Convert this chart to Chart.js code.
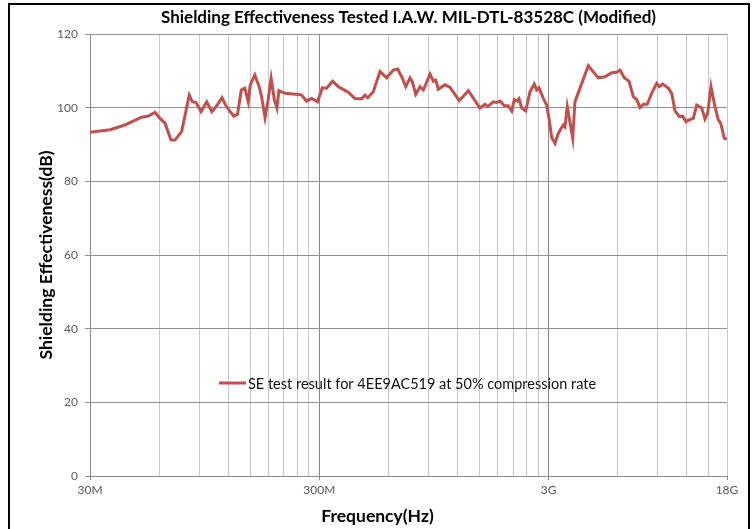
<!DOCTYPE html>
<html lang="en">
<head>
<meta charset="UTF-8">
<title>Shielding Effectiveness</title>
<script src="https://cdn.jsdelivr.net/npm/chart.js"></script>
<style>
  html, body { margin: 0; padding: 0; background: #fff; overflow: hidden; }
  #wrap { position: absolute; left: 0; top: 0; width: 755px; height: 529px; }
  #frame { position: absolute; left: 8px; top: 3px; width: 738px; height: 540px; border: 2px solid #000; pointer-events: none; }
</style>
</head>
<body>
<div id="wrap"><canvas id="seChart"></canvas></div>
<div id="frame"></div>
<script>
// frequency in MHz, shielding effectiveness in dB
const FREQ_MHZ = [
  30, 36.7, 42.6, 50.4, 53.9, 57.6, 60.6, 63.7, 67.7, 70.4,
  75.3, 81.3, 83.8, 87, 91.5, 96.8, 102, 107, 113, 118,
  127, 132, 137, 142, 147, 150, 157, 164, 168, 174,
  179, 185, 191, 196, 200, 213, 243, 251, 264, 278,
  295, 309, 323, 343, 363, 401, 429, 459, 475, 488,
  516, 552, 590, 631, 659, 686, 715, 746, 764, 790,
  825, 853, 912, 943, 966, 991, 1060, 1115, 1224, 1340,
  1506, 1584, 1628, 1721, 1781, 1841, 1923, 2002, 2071, 2126,
  2191, 2229, 2290, 2384, 2489, 2599, 2662, 2725, 2845, 2943,
  3012, 3096, 3199, 3305, 3477, 3537, 3619, 3822, 3909, 4113,
  4470, 4944, 5287, 5655, 5946, 6146, 6415, 6726, 7024, 7269,
  7513, 7764, 8082, 8448, 8883, 9120, 9438, 9981, 10330, 10677,
  11145, 11532, 11922, 12324, 12828, 13275, 13959, 14430, 14826, 15327,
  15954, 16491, 16893, 17514, 18000
];
const SE_DB = [
  93.3, 94.0, 95.3, 97.4, 97.7, 98.7, 97.1, 95.8, 91.2, 91.2,
  93.5, 103.4, 101.6, 101.4, 98.9, 101.6, 98.9, 100.5, 102.7, 100.3,
  97.7, 98.2, 104.8, 105.3, 101.6, 106.2, 108.9, 105.7, 103.0, 97.3,
  101.6, 108.0, 102.2, 99.9, 104.6, 103.9, 103.6, 103.4, 101.8, 102.5,
  101.6, 105.4, 105.3, 107.2, 105.7, 104.2, 102.5, 102.4, 103.4, 102.7,
  104.3, 109.8, 108.1, 110.2, 110.5, 108.4, 105.7, 108.1, 107.0, 103.6,
  105.7, 104.8, 109.1, 107.2, 107.5, 105.0, 106.2, 105.5, 101.9, 104.6,
  99.9, 100.9, 100.3, 101.6, 101.4, 101.8, 100.5, 100.5, 99.1, 102.2,
  101.8, 102.4, 99.9, 99.1, 104.3, 106.4, 104.8, 105.4, 102.5, 100.7,
  97.1, 91.9, 90.3, 93.0, 95.3, 94.8, 100.3, 91.7, 101.6, 105.3,
  111.4, 108.1, 108.4, 109.5, 109.6, 110.2, 108.1, 107.2, 103.0, 102.2,
  100.0, 100.9, 100.9, 103.9, 106.6, 105.7, 106.4, 105.3, 103.9, 99.1,
  97.6, 97.7, 96.2, 96.7, 97.1, 100.7, 99.9, 96.9, 98.5, 105.7,
  100.3, 96.7, 95.8, 91.7, 91.5
];

// vertical grid lines and the few that carry a label
const X_GRID_MHZ = [
  30, 60, 90, 120, 150, 180, 210, 240, 270,
  300, 600, 900, 1200, 1500, 1800, 2100, 2400, 2700,
  3000, 6000, 9000, 12000, 15000, 18000
];
const X_MAJOR_MHZ = [30, 300, 3000, 18000];
const X_TICK_LABELS = ["30M", "300M", "3G", "18G"];

const SERIES_LABEL = "SE test result for 4EE9AC519 at 50% compression rate";
const LINE_COLOR = "#C0504D";
const FONT = "Lato";

// legend sits inside the plot, like in the excel chart
const legendInPlot = {
    id: "legendInPlot",
    afterDraw(chart) {
        const { ctx, chartArea } = chart;
        const ds = chart.data.datasets[0];
        const x = chartArea.left + 129;
        const y = chartArea.top + 349;
        ctx.save();
        ctx.strokeStyle = ds.borderColor;
        ctx.lineWidth = 3;
        ctx.beginPath();
        ctx.moveTo(x, y);
        ctx.lineTo(x + 27, y);
        ctx.stroke();
        ctx.font = "14.5px " + FONT;
        ctx.fillStyle = "#111";
        ctx.textBaseline = "middle";
        ctx.fillText(ds.label, x + 29, y + 1);
        ctx.restore();
    }
};

new Chart(document.getElementById("seChart"), {
    type: "line",
    data: {
        datasets: [{
            label: SERIES_LABEL,
            data: FREQ_MHZ.map((f, i) => ({ x: f, y: SE_DB[i] })),
            borderColor: LINE_COLOR,
            borderWidth: 3,
            pointRadius: 0,
            tension: 0,
            fill: false
        }]
    },
    options: {
        responsive: true,
        maintainAspectRatio: false,
        animation: false,
        layout: { padding: 0 },
        plugins: {
            legend: { display: false },
            tooltip: { enabled: false },
            title: {
                display: true,
                text: "Shielding Effectiveness Tested I.A.W. MIL-DTL-83528C (Modified)",
                fullSize: false,
                color: "#000",
                font: { family: FONT, size: 17, weight: "bold" },
                padding: { top: 7, bottom: 6.6 }
            },
            subtitle: {
                display: true,
                position: "bottom",
                text: "Frequency(Hz)",
                color: "#000",
                font: { family: FONT, size: 17.5, weight: "bold" },
                padding: { top: 0, bottom: 2 }
            }
        },
        scales: {
            x: {
                type: "logarithmic",
                min: 30,
                max: 18000,
                afterBuildTicks: (scale) => {
                    scale.ticks = X_GRID_MHZ.map(v => ({ value: v }));
                },
                afterFit: (scale) => {
                    scale.height = 30;
                    // keep the plot's right edge clear of the frame
                    scale.paddingRight = 28;
                },
                ticks: {
                    autoSkip: false,
                    maxRotation: 0,
                    padding: 3,
                    color: "#595959",
                    font: { family: FONT, size: 12 },
                    callback: (v) => {
                        const k = X_MAJOR_MHZ.indexOf(v);
                        return k >= 0 ? X_TICK_LABELS[k] : "";
                    }
                },
                grid: {
                    color: (c) => (c.tick && (c.tick.value === 300 || c.tick.value === 3000)) ? "#8a8a8a" : "#c8c8c8",
                    tickColor: (c) => (c.tick && X_MAJOR_MHZ.includes(c.tick.value)) ? "#8a8a8a" : "rgba(0,0,0,0)",
                    tickLength: 4,
                    lineWidth: 1
                },
                border: { color: "#8a8a8a", width: 1 }
            },
            y: {
                min: 0,
                max: 120,
                afterFit: (scale) => { scale.width = 90; },
                ticks: {
                    stepSize: 20,
                    padding: 7,
                    color: "#595959",
                    font: { family: FONT, size: 12 }
                },
                grid: {
                    color: "#8f8f8f",
                    tickLength: 5,
                    lineWidth: 1
                },
                border: { color: "#8a8a8a", width: 1 },
                title: {
                    display: true,
                    text: "Shielding Effectiveness(dB)",
                    color: "#000",
                    font: { family: FONT, size: 17.5, weight: "bold" },
                    padding: { top: 35.5, bottom: 0 }
                }
            }
        }
    },
    plugins: [legendInPlot]
});
</script>
</body>
</html>
